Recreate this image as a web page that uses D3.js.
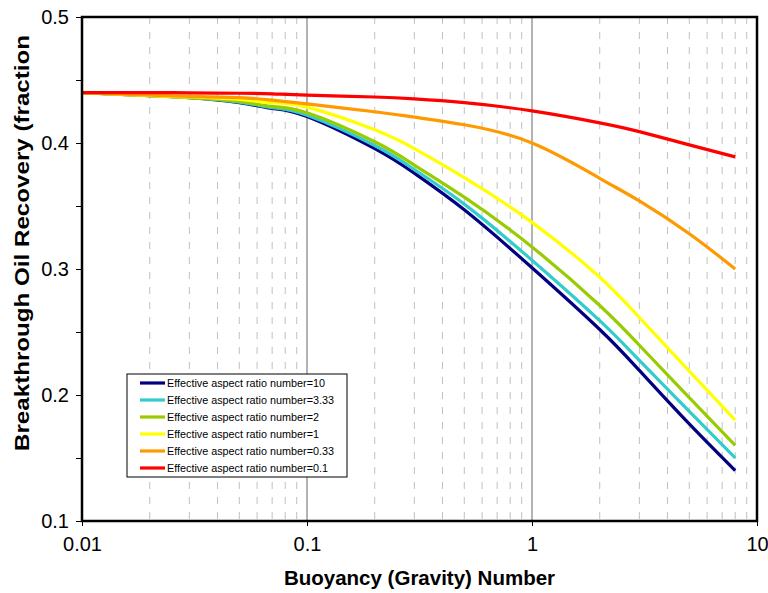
<!DOCTYPE html>
<html><head><meta charset="utf-8">
<script src="https://cdn.jsdelivr.net/npm/d3@7"></script>
<style>body{margin:0;background:#fff;} text{font-family:"Liberation Sans",Arial,sans-serif;}</style>
</head><body>
<svg id="c" width="768" height="593"></svg>
<script>
const xValues = [0.01, 0.02, 0.03, 0.05, 0.07, 0.1, 0.2, 0.3, 0.5, 1, 2, 3, 5, 8];
const seriesNames = ["Effective aspect ratio number=10","Effective aspect ratio number=3.33","Effective aspect ratio number=2","Effective aspect ratio number=1","Effective aspect ratio number=0.33","Effective aspect ratio number=0.1"];
const seriesColors = ["#000080","#33CCCC","#99CC00","#FFFF00","#FF9900","#FF0000"];
const ar10   = [0.440,0.4375,0.436,0.432,0.4275,0.421,0.3955,0.376,0.347,0.301,0.252,0.2195,0.177,0.140];
const ar333  = [0.440,0.4375,0.436,0.4325,0.428,0.422,0.398,0.379,0.3515,0.307,0.259,0.2275,0.187,0.150];
const ar2    = [0.440,0.4375,0.436,0.433,0.429,0.424,0.401,0.3825,0.357,0.3175,0.271,0.2395,0.198,0.160];
const ar1    = [0.440,0.4375,0.4365,0.4345,0.432,0.4285,0.4105,0.3955,0.3725,0.337,0.2935,0.2615,0.219,0.180];
const ar033  = [0.440,0.438,0.437,0.436,0.434,0.431,0.4248,0.4205,0.4145,0.400,0.372,0.354,0.328,0.300];
const ar01   = [0.440,0.440,0.4398,0.4395,0.439,0.438,0.4365,0.435,0.432,0.4255,0.416,0.409,0.3985,0.389];
const seriesValues = [ar10, ar333, ar2, ar1, ar033, ar01];
const xTickLabels = ["0.01","0.1","1","10"];
const yTickLabels = ["0.1","0.2","0.3","0.4","0.5"];
const xTitle = "Buoyancy (Gravity) Number";
const yTitle = "Breakthrough Oil Recovery (fraction";

const svg = d3.select("#c");
const L=82, R=757, T=17, B=521;
const x = d3.scaleLog().domain([0.01,10]).range([L,R]);
const y = d3.scaleLinear().domain([0.1,0.5]).range([B,T]);

// vertical gridlines
const minor = [];
[0.01,0.1,1].forEach(d=>{for(let k=2;k<=9;k++) minor.push(+(d*k).toPrecision(3));});
svg.append("g").selectAll("line").data(minor).join("line")
  .attr("x1",d=>x(d)).attr("x2",d=>x(d)).attr("y1",T).attr("y2",B)
  .attr("stroke","#c0c0c0").attr("stroke-width",1).attr("stroke-dasharray","7,8");
svg.append("g").selectAll("line").data([0.1,1]).join("line")
  .attr("x1",d=>x(d)).attr("x2",d=>x(d)).attr("y1",T).attr("y2",B)
  .attr("stroke","#808080").attr("stroke-width",1.2);

// y axis
const yAxis = d3.axisLeft(y).tickValues(d3.range(0.1,0.5001,0.05)).tickSize(6)
  .tickFormat(d=>{const s=d3.format(".1f")(d);return yTickLabels.includes(s)&&Math.abs(d*10-Math.round(d*10))<1e-6?s:"";});
const gy = svg.append("g").attr("transform",`translate(${L},0)`).call(yAxis);
gy.select(".domain").remove();
gy.selectAll("line").attr("stroke","#000").attr("stroke-width",1);
gy.selectAll("text").attr("font-size",20).attr("fill","#000").attr("dx",-4);

// x axis
const xAxis = d3.axisBottom(x).tickValues([0.01,0.1,1,10]).tickSize(5)
  .tickFormat((d,i)=>xTickLabels[i]);
const gx = svg.append("g").attr("transform",`translate(0,${B})`).call(xAxis);
gx.select(".domain").remove();
gx.selectAll("line").attr("stroke","#000");
gx.selectAll("text").attr("font-size",20).attr("fill","#000").attr("dy","1.1em");

// lines
const line = d3.line().x((d,i)=>x(xValues[i])).y(d=>y(d)).curve(d3.curveNatural);
svg.append("g").selectAll("path").data(seriesValues).join("path")
  .attr("d",d=>line(d)).attr("fill","none")
  .attr("stroke",(d,i)=>seriesColors[i]).attr("stroke-width",3.2);

// frame
svg.append("rect").attr("x",L).attr("y",T).attr("width",R-L).attr("height",B-T)
  .attr("fill","none").attr("stroke","#000").attr("stroke-width",2.5);

// titles
svg.append("text").attr("x",(L+R)/2).attr("y",585).attr("text-anchor","middle")
  .attr("font-size",20.5).attr("font-weight","bold").text(xTitle);
svg.append("text").attr("transform",`translate(29,243) rotate(-90)`).attr("text-anchor","middle")
  .attr("font-size",20.5).attr("font-weight","bold")
  .attr("textLength",416).attr("lengthAdjust","spacingAndGlyphs").text(yTitle);

// legend
const lg = svg.append("g");
lg.append("rect").attr("x",127).attr("y",374).attr("width",220).attr("height",103)
  .attr("fill","#fff").attr("stroke","#000").attr("stroke-width",1);
const rows = lg.selectAll("g.r").data(seriesNames).join("g").attr("class","r")
  .attr("transform",(d,i)=>`translate(0,${383+i*17})`);
rows.append("line").attr("x1",140).attr("x2",165).attr("y1",0).attr("y2",0)
  .attr("stroke",(d,i)=>seriesColors[i]).attr("stroke-width",3.2);
rows.append("text").attr("x",167).attr("y",0).attr("dy","0.35em").attr("font-size",10.8).text(d=>d);
</script>
</body></html>
